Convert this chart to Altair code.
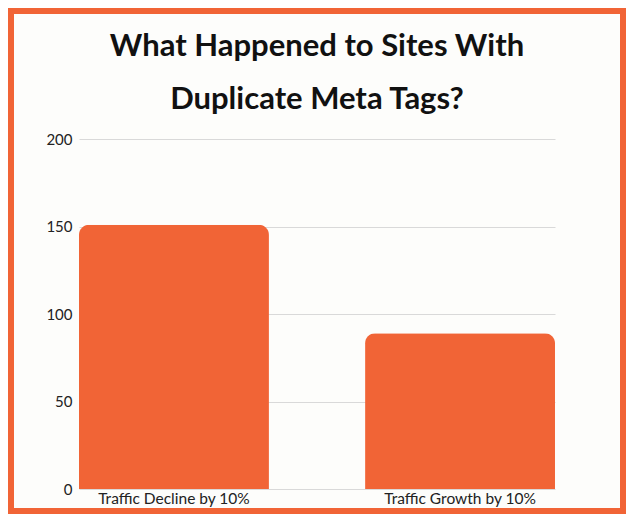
import altair as alt
import pandas as pd

categories = ["Traffic Decline by 10%", "Traffic Growth by 10%"]
values = [151, 89]

ORANGE = "#F16436"
BG = "#FDFDFB"

df = pd.DataFrame({"category": categories, "value": values})
frame_df = pd.DataFrame({"frame": [0]})

bars = alt.Chart(df).mark_bar(
    color=ORANGE, cornerRadiusTopLeft=10, cornerRadiusTopRight=10
).encode(
    x=alt.X("category:N", sort=categories, title=None,
            scale=alt.Scale(paddingInner=0.336, paddingOuter=0),
            axis=alt.Axis(labelAngle=0, domain=False, ticks=False, labelPadding=2,
                          labelFontSize=15.5, labelFont="Lato", labelColor="#222222")),
    y=alt.Y("value:Q", title=None,
            scale=alt.Scale(domain=[0, 200]),
            axis=alt.Axis(values=[0, 50, 100, 150, 200], domain=False, ticks=False,
                          labelPadding=7, labelFontSize=15, labelFont="Lato",
                          labelColor="#222222", gridColor="#D9D9D9", gridWidth=1)),
)

frame = alt.Chart(frame_df).mark_rect(
    fill="transparent", stroke=ORANGE, strokeWidth=6
).encode(
    x=alt.value(-68), x2=alt.value(544),
    y=alt.value(-128), y2=alt.value(372),
)

chart = alt.layer(bars, frame).properties(
    width=476, height=350, padding=0, background=BG,
    title=alt.TitleParams(
        text=["What Happened to Sites With", "Duplicate Meta Tags?"],
        font="Lato", fontSize=31, fontWeight="bold", color="#111111",
        anchor="middle", lineHeight=53, offset=-108,
    ),
).configure_view(stroke=None)

chart.save("out.html", embed_options={"renderer": "svg", "actions": False})
